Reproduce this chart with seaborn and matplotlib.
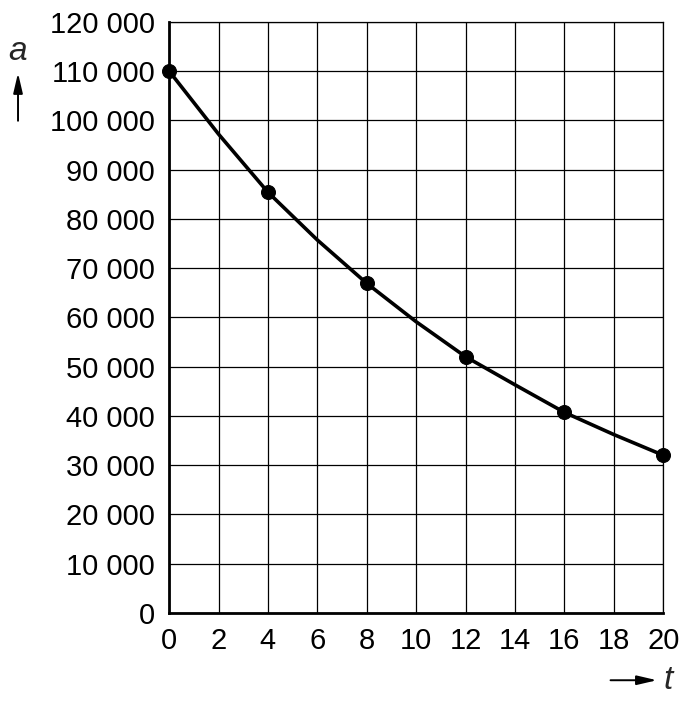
import matplotlib
matplotlib.use("Agg")
import matplotlib.pyplot as plt
import seaborn as sns
import pandas as pd

# values
t_points = [0, 4, 8, 12, 16, 20]
a_points = [110000, 85400, 66900, 52000, 40700, 32000]

# curve read at every grid line
t_curve = [0, 2, 4, 6, 8, 10, 12, 14, 16, 18, 20]
a_curve = [110000, 97200, 85400, 75700, 66900, 59100, 52000, 46300, 40700, 36200, 32000]

x_ticks = [0, 2, 4, 6, 8, 10, 12, 14, 16, 18, 20]
y_ticks = [0, 10000, 20000, 30000, 40000, 50000, 60000, 70000, 80000, 90000,
           100000, 110000, 120000]
y_tick_labels = ["0", "10 000", "20 000", "30 000", "40 000", "50 000", "60 000",
                 "70 000", "80 000", "90 000", "100 000", "110 000", "120 000"]

sns.set_style("white")
plt.rcParams["font.family"] = ["Liberation Sans", "DejaVu Sans"]

df_curve = pd.DataFrame({"t": t_curve, "a": a_curve})
df_points = pd.DataFrame({"t": t_points, "a": a_points})

fig = plt.figure(figsize=(6.93, 7.02), dpi=100)
ax = fig.add_axes([0.244, 0.127, 0.713, 0.842])

sns.lineplot(data=df_curve, x="t", y="a", color="black", linewidth=2.6, ax=ax, zorder=3)
sns.scatterplot(data=df_points, x="t", y="a", color="black", s=100, edgecolor="black",
                ax=ax, zorder=4, clip_on=False)

ax.set_xlim(0, 20)
ax.set_ylim(0, 120000)
ax.set_xticks(x_ticks)
ax.set_xticklabels([str(v) for v in x_ticks])
ax.set_yticks(y_ticks)
ax.set_yticklabels(y_tick_labels)
ax.set_xlabel("")
ax.set_ylabel("")

ax.grid(True, color="black", linewidth=0.9)
ax.set_axisbelow(True)
for side in ["top", "right"]:
    ax.spines[side].set_linewidth(0.9)
    ax.spines[side].set_color("black")
for side in ["left", "bottom"]:
    ax.spines[side].set_linewidth(2.0)
    ax.spines[side].set_color("black")

ax.tick_params(axis="both", direction="inout", length=12, width=1.8, color="black",
               labelsize=21, labelcolor="black", pad=4)

# axis names with arrows
arrow_style = "-|>,head_length=0.6,head_width=0.14"
fig.text(0.025, 0.926, "a", fontsize=24, fontstyle="italic", ha="center", va="center")
fig.add_artist(matplotlib.patches.FancyArrowPatch((0.026, 0.824), (0.026, 0.900),
                                                  transform=fig.transFigure,
                                                  arrowstyle=arrow_style,
                                                  mutation_scale=20,
                                                  color="black", linewidth=1.4))
fig.text(0.964, 0.031, "t", fontsize=24, fontstyle="italic", ha="center", va="center")
fig.add_artist(matplotlib.patches.FancyArrowPatch((0.877, 0.031), (0.952, 0.031),
                                                  transform=fig.transFigure,
                                                  arrowstyle=arrow_style,
                                                  mutation_scale=20,
                                                  color="black", linewidth=1.4))

fig.savefig("out.png", dpi=100, facecolor="white")
